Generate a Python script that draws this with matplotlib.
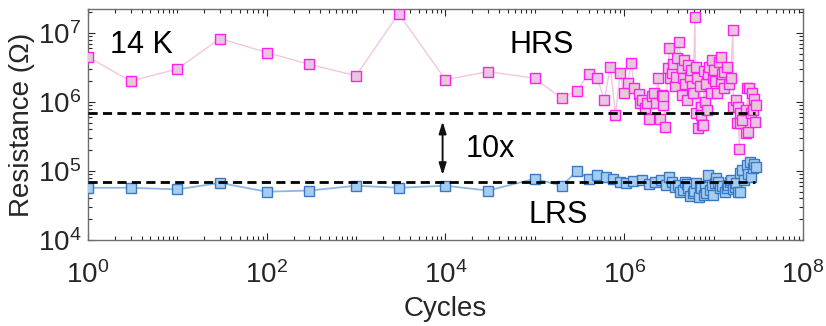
import matplotlib
matplotlib.use("Agg")
import matplotlib.pyplot as plt
from matplotlib.ticker import LogLocator, NullFormatter

plt.rcParams['font.family'] = ['Liberation Sans', 'DejaVu Sans']
plt.rcParams['mathtext.fontset'] = 'custom'
plt.rcParams['mathtext.rm'] = 'Liberation Sans'

# ---------------- data ----------------
hrs_cycles = [1, 3, 10, 30, 100, 300, 1000, 3000, 1e4, 3e4, 1e5, 2e5, 3e5, 4e5, 5e5,
              6.0e5, 7.0e5, 8.0e5, 9.0e5, 1.0e6, 1.1e6, 1.2e6, 1.3e6, 1.45e6, 1.5e6,
              1.6e6, 1.7e6, 1.8e6, 1.9e6, 2.05e6, 2.15e6, 2.25e6, 2.4e6, 2.55e6, 2.65e6,
              2.7e6, 2.75e6, 2.85e6, 3.1e6, 3.2e6, 3.25e6, 3.4e6, 3.5e6, 3.7e6, 3.8e6,
              3.9e6, 4.1e6, 4.4e6, 4.45e6, 4.6e6, 4.7e6, 4.8e6, 5.0e6, 5.2e6, 5.4e6,
              5.6e6, 5.7e6, 5.9e6, 6.2e6, 6.3e6, 6.4e6, 6.5e6, 6.7e6, 7.0e6, 7.2e6,
              7.3e6, 7.4e6, 7.6e6, 7.9e6, 8.0e6, 8.3e6, 8.4e6, 8.7e6, 9.0e6, 9.4e6,
              9.5e6, 9.8e6, 1.02e7, 1.05e7, 1.1e7, 1.14e7, 1.2e7, 1.21e7, 1.25e7, 1.3e7,
              1.32e7, 1.4e7, 1.5e7, 1.55e7, 1.65e7, 1.67e7, 1.8e7, 1.82e7, 1.87e7, 1.95e7,
              1.96e7, 2.0e7, 2.1e7, 2.3e7, 2.32e7, 2.4e7, 2.45e7, 2.5e7, 2.6e7, 2.7e7,
              2.75e7, 2.85e7, 2.95e7, 3.0e7]
hrs_res = [4.5e6, 2.0e6, 3.0e6, 8.3e6, 5.2e6, 3.5e6, 2.4e6, 1.9e7, 2.1e6, 2.75e6,
           2.2e6, 1.13e6, 1.46e6, 2.57e6, 2.24e6,
           1.07e6, 3.2e6, 6.5e5, 2.6e6, 1.35e6, 1.9e6, 3.7e6, 1.6e6, 1.3e6, 9.6e5,
           1.07e6, 8.1e5, 9.5e5, 5.6e5, 1.2e6, 1.35e6, 9.8e5, 2.2e6, 5.7e5, 1.25e6,
           9.1e5, 1.2e6, 4.3e5, 3.1e6, 6.0e6, 2.2e6, 2.6e6, 3.5e6, 1.7e6, 2.3e6,
           4.4e6, 7.5e6, 3.1e6, 1.27e6, 2.2e6, 4.1e6, 1.8e6, 1.07e6, 3.4e6, 2.3e6,
           2.9e6, 1.7e6, 1.35e6, 1.7e7, 6.9e5, 3.2e6, 2.2e6, 4.2e5, 1.7e6, 8.5e5,
           6.5e5, 4.7e5, 4.7e5, 2.8e6, 1.0e6, 1.8e6, 7.7e5, 2.5e6, 3.2e6, 1.35e6,
           4.1e6, 2.2e6, 2.9e6, 2.0e6, 1.35e6, 3.8e6, 4.5e6, 2.0e6, 2.5e6, 1.6e6,
           2.7e6, 3.2e6, 1.8e6, 2.2e6, 1.1e7, 8.5e5, 1.07e6, 4.9e5, 8.5e5, 2.1e5,
           6.8e5, 4.9e5, 5.5e5, 7.7e5, 3.5e5, 1.6e6, 3.7e5, 1.6e6, 6.8e5, 1.35e6,
           7.7e5, 1.1e6, 5.2e5, 9.1e5]

lrs_cycles = [1, 3, 10, 30, 100, 300, 1000, 3000, 1e4, 3e4, 1e5, 2e5, 3e5, 4e5, 5e5,
              6.2e5, 7.5e5, 9.1e5, 1.05e6, 1.25e6, 1.6e6, 1.9e6, 2.2e6, 2.6e6, 2.95e6,
              3.2e6, 3.4e6, 3.7e6, 4.0e6, 4.2e6, 4.5e6, 4.8e6, 5.0e6, 5.2e6, 5.5e6,
              5.9e6, 6.1e6, 6.4e6, 6.8e6, 7.0e6, 7.3e6, 7.8e6, 8.0e6, 8.3e6, 8.7e6,
              9.1e6, 9.5e6, 9.9e6, 1.03e7, 1.07e7, 1.12e7, 1.17e7, 1.25e7, 1.33e7, 1.4e7,
              1.45e7, 1.52e7, 1.58e7, 1.65e7, 1.73e7, 1.8e7, 1.88e7, 1.96e7, 2.0e7, 2.1e7,
              2.2e7, 2.35e7, 2.45e7, 2.55e7, 2.65e7, 2.75e7, 2.85e7, 3.0e7]
lrs_res = [5.7e4, 5.7e4, 5.4e4, 6.7e4, 5.0e4, 5.2e4, 6.1e4, 5.7e4, 6.1e4, 5.2e4,
           7.7e4, 6.1e4, 1.0e5, 7.7e4, 8.7e4,
           8.3e4, 7.6e4, 7.0e4, 6.6e4, 7.2e4, 7.4e4, 6.4e4, 7.0e4, 7.4e4, 6.3e4,
           8.3e4, 6.8e4, 5.9e4, 6.2e4, 5.0e4, 5.3e4, 7.0e4, 6.4e4, 5.6e4, 4.4e4,
           4.8e4, 5.2e4, 6.6e4, 4.2e4, 6.1e4, 5.6e4, 4.5e4, 5.8e4, 4.8e4, 8.7e4,
           5.3e4, 6.3e4, 4.5e4, 6.6e4, 7.8e4, 7.0e4, 5.6e4, 6.0e4, 5.0e4, 5.7e4,
           6.3e4, 6.8e4, 7.4e4, 5.5e4, 5.9e4, 6.6e4, 5.0e4, 9.3e4, 4.9e4, 1.03e5,
           7.4e4, 1.22e5, 9.0e4, 1.36e5, 8.3e4, 1.09e5, 1.25e5, 1.15e5]

hrs_level = 7.0e5
lrs_level = 7.0e4
level_span = [1, 2.9e7]
arrow_x = 9.3e3
arrow_y = [5.2e5, 8.7e4]

# ---------------- figure ----------------
fig = plt.figure(figsize=(8.26, 3.26), dpi=100)
ax = fig.add_axes([0.1065, 0.264, 0.8655, 0.7075])

ax.plot(hrs_cycles, hrs_res, '-', color='#f2c6e2', lw=1.0, zorder=2)
ax.plot(hrs_cycles, hrs_res, 's', ls='none', ms=7.4, mfc='#e8c6de', mec='#ff1fee',
        mew=1.0, zorder=3)
ax.plot(lrs_cycles, lrs_res, '-', color='#8db6e2', lw=1.3, zorder=2)
ax.plot(lrs_cycles, lrs_res, 's', ls='none', ms=7.4, mfc='#a5cdf0', mec='#3a78c4',
        mew=1.0, zorder=3)

for lvl in (hrs_level, lrs_level):
    ln, = ax.plot(level_span, [lvl, lvl], color='black', lw=2.0, zorder=4)
    ln.set_dashes((3.3, 1.9))

ax.annotate('', xy=(arrow_x, arrow_y[1]), xytext=(arrow_x, arrow_y[0]),
            arrowprops=dict(arrowstyle='<|-|>,head_width=0.22,head_length=0.7',
                            color='#111111', lw=1.4, shrinkA=0, shrinkB=0), zorder=5)

ax.text(1.75, 6.7e6, '14 K', fontsize=22, va='center', ha='left')
ax.text(5.2e4, 6.7e6, 'HRS', fontsize=22, va='center', ha='left')
ax.text(8.6e4, 2.3e4, 'LRS', fontsize=22, va='center', ha='left')
ax.text(1.7e4, 2.1e5, '10x', fontsize=22, va='center', ha='left')

ax.set_xscale('log')
ax.set_yscale('log')
ax.set_xlim(1, 1e8)
ax.set_ylim(1e4, 2.2e7)

ax.xaxis.set_major_locator(LogLocator(base=100, numticks=10))
ax.xaxis.set_minor_locator(LogLocator(base=10, subs=list(range(1, 10)), numticks=20))
ax.xaxis.set_minor_formatter(NullFormatter())
ax.yaxis.set_major_locator(LogLocator(base=10, numticks=10))
ax.yaxis.set_minor_locator(LogLocator(base=10, subs=list(range(2, 10)), numticks=20))
ax.yaxis.set_minor_formatter(NullFormatter())

ax.tick_params(which='both', direction='in', top=True, right=True,
               colors='#262626', labelsize=20, width=0.8)
ax.tick_params(which='major', length=5)
ax.tick_params(which='minor', length=3)
ax.tick_params(axis='x', pad=15)
ax.tick_params(axis='y', pad=5)
for sp in ax.spines.values():
    sp.set_color('#6e6e6e')
    sp.set_linewidth(1.0)

ax.set_xlabel('Cycles', fontsize=20, color='#262626')
ax.set_ylabel('Resistance (Ω)', fontsize=20, color='#262626')
ax.xaxis.set_label_coords(0.5, -0.245)
ax.yaxis.set_label_coords(-0.074, 0.5)

fig.savefig('out.png', dpi=100)
